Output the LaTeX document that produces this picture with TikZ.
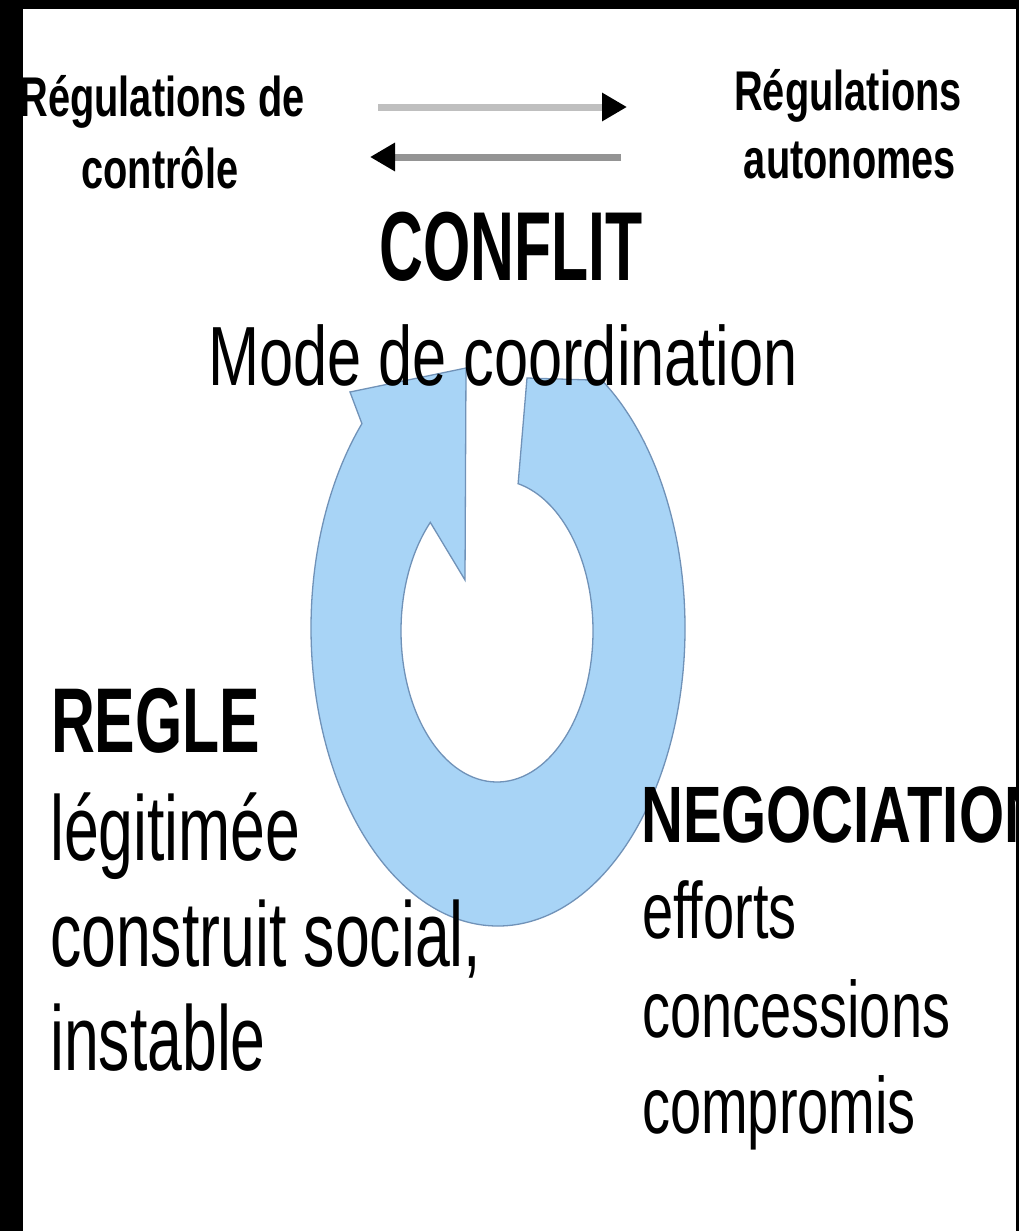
\documentclass[tikz,border=0pt]{standalone}
\usepackage{fontspec}
\setmainfont{Liberation Sans}
\usetikzlibrary{arrows.meta,calc}
\definecolor{ringblue}{RGB}{168,212,246}
\definecolor{ringedge}{RGB}{112,146,184}
\begin{document}
\begin{tikzpicture}[x=1pt,y=-1pt,
  lbl/.style={inner sep=0pt,font=\bfseries\fontsize{56}{60}\selectfont,xscale=0.71,anchor=base},
  big/.style={inner sep=0pt,font=\fontsize{92}{100}\selectfont,xscale=0.68,anchor=base west},
  bigb/.style={inner sep=0pt,font=\bfseries\fontsize{92}{100}\selectfont,xscale=0.66,anchor=base west},
  neg/.style={inner sep=0pt,font=\fontsize{80}{90}\selectfont,xscale=0.70,anchor=base west},
  negb/.style={inner sep=0pt,font=\bfseries\fontsize{80}{90}\selectfont,xscale=0.725,anchor=base west},
  arrowline/.style={line width=7pt,-{Triangle[length=25pt,width=27pt,color=black]}},
  ring/.style={fill=ringblue,draw=ringedge,line width=1.3pt,line join=miter}
]
\useasboundingbox (0,0) rectangle (1019,1231);
\fill[white] (0,0) rectangle (1019,1231);

% circular arrow
\path[ring] ([shift={(498,628)}]-56.2:187 and 298)
  arc[start angle=-56.2,end angle=223.3,x radius=187,y radius=298]
  -- (350,392) -- (466,368) -- (465,580)
  -- ([shift={(497,631)}]226:96 and 151)
  arc[start angle=226,end angle=-77.3,x radius=96,y radius=151]
  -- (527,378) -- cycle;

% top arrows
\coordinate (ua1) at (378,107);
\coordinate (ua2) at (627,107);
\coordinate (la1) at (621,157);
\coordinate (la2) at (370,157);
\draw[arrowline,draw=black!25] (ua1) -- (ua2);
\draw[arrowline,draw=black!42] (la1) -- (la2);

% top labels
\node[lbl] (rc1) at (162,116) {Régulations de};
\node[lbl] (rc2) at (160,188) {contrôle};
\node[lbl] (ra1) at (848,110) {Régulations};
\node[lbl] (ra2) at (850,178) {autonomes};

% centre
\node[inner sep=0pt,font=\bfseries\fontsize{98}{100}\selectfont,xscale=0.62,anchor=base] (conf) at (511,280) {CONFLIT};
\node[inner sep=0pt,font=\fontsize{84}{90}\selectfont,xscale=0.73,anchor=base] (mode) at (503,385) {Mode de coordination};

% left block
\node[bigb] (r1) at (51,752) {REGLE};
\node[big] (r2) at (50,860) {légitimée};
\node[big] (r3) at (50,966) {construit social,};
\node[big] (r4) at (50,1070) {instable};

% right block
\node[negb] (n1) at (641,842) {NEGOCIATION};
\node[neg] (n2) at (642,938) {efforts};
\node[neg] (n3) at (642,1037) {concessions};
\node[neg] (n4) at (642,1133) {compromis};

% black frame
\fill[black] (0,0) rectangle (23,1231);
\fill[black] (0,0) rectangle (1019,9);
\fill[black] (1016,0) rectangle (1019,1231);
\end{tikzpicture}
\end{document}
